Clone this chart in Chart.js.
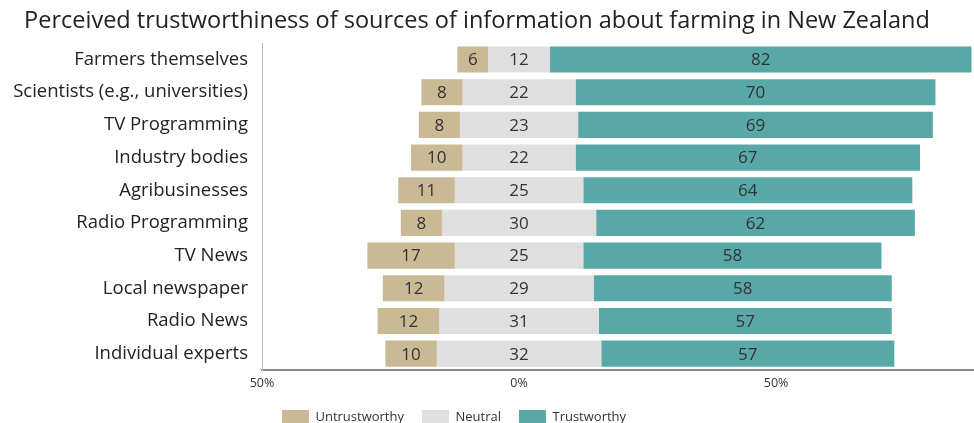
<!DOCTYPE html>
<html>
<head>
<meta charset="utf-8">
<script src="https://cdn.jsdelivr.net/npm/chart.js@4"></script>
<style>
  body { margin: 0; background: #fff; }
  #wrap { width: 974px; height: 423px; }
</style>
</head>
<body>
<div id="wrap"><canvas id="trustChart"></canvas></div>
<script>
const sources = [
  "Farmers themselves",
  "Scientists (e.g., universities)",
  "TV Programming",
  "Industry bodies",
  "Agribusinesses",
  "Radio Programming",
  "TV News",
  "Local newspaper",
  "Radio News",
  "Individual experts",
];
const untrustworthy = [6, 8, 8, 10, 11, 8, 17, 12, 12, 10];
const neutral = [12, 22, 23, 22, 25, 30, 25, 29, 31, 32];
const trustworthy = [82, 70, 69, 67, 64, 62, 58, 58, 57, 57];
const axisTicks = [-50, 0, 50];

const colors = {
  untrust: "#c9b994",
  neutral: "#dfdfdf",
  trust: "#59a8a8",
  text: "#222",
};

const fontFamily = "'Open Sans', 'Noto Sans', sans-serif";

// neutral is centred on zero, the other two hang off either side
const untrustBars = untrustworthy.map((u, i) => [-neutral[i] / 2 - u, -neutral[i] / 2]);
const neutralBars = neutral.map((n) => [-n / 2, n / 2]);
const trustBars = trustworthy.map((t, i) => [neutral[i] / 2, neutral[i] / 2 + t]);
const rawValues = [untrustworthy, neutral, trustworthy];

const barLabels = {
  id: "barLabels",
  afterDatasetsDraw(chart) {
    const ctx = chart.ctx;
    ctx.save();
    ctx.font = "17px " + fontFamily;
    ctx.fillStyle = "#333";
    ctx.textAlign = "center";
    ctx.textBaseline = "middle";
    chart.data.datasets.forEach((ds, di) => {
      chart.getDatasetMeta(di).data.forEach((bar, i) => {
        const p = bar.getCenterPoint();
        ctx.fillText(rawValues[di][i], p.x, p.y + 1);
      });
    });
    ctx.restore();
  },
};

// nudge title and legend to where the original had them
const nudge = {
  id: "nudge",
  afterLayout(chart) {
    if (chart.titleBlock) {
      chart.titleBlock.left -= 10;
      chart.titleBlock.right -= 10;
    }
    if (chart.legend) {
      chart.legend.left -= 33;
      chart.legend.right -= 33;
      chart.legend.top -= 5;
      chart.legend.bottom -= 5;
    }
  },
};

new Chart(document.getElementById("trustChart"), {
  type: "bar",
  data: {
    labels: sources,
    datasets: [
      { label: "Untrustworthy", data: untrustBars, backgroundColor: colors.untrust },
      { label: "Neutral", data: neutralBars, backgroundColor: colors.neutral },
      { label: "Trustworthy", data: trustBars, backgroundColor: colors.trust },
    ],
  },
  options: {
    indexAxis: "y",
    responsive: true,
    maintainAspectRatio: false,
    animation: false,
    grouped: false,
    barPercentage: 0.8,
    categoryPercentage: 1,
    layout: { padding: { top: 0, right: 0, bottom: -16, left: 0 } },
    plugins: {
      title: {
        display: true,
        text: "Perceived trustworthiness of sources of information about farming in New Zealand",
        color: colors.text,
        font: { family: fontFamily, size: 23.5, weight: "normal" },
        padding: { top: 7, bottom: 8 },
      },
      legend: {
        position: "bottom",
        labels: {
          color: "#333",
          boxWidth: 27,
          boxHeight: 14,
          padding: 18,
          font: { family: fontFamily, size: 13 },
        },
      },
      tooltip: { enabled: false },
    },
    scales: {
      x: {
        min: -50,
        max: 88.5,
        afterBuildTicks: (scale) => {
          scale.ticks = axisTicks.map((v) => ({ value: v }));
        },
        ticks: {
          color: "#333",
          font: { family: fontFamily, size: 12.5 },
          callback: (v) => Math.abs(v) + "%",
          padding: 6,
        },
        grid: { display: false, drawTicks: false },
        border: { display: true, color: "#888", width: 2 },
      },
      y: {
        afterFit: (scale) => {
          scale.width = 262;
        },
        ticks: {
          color: colors.text,
          font: { family: fontFamily, size: 18.5 },
          padding: 6,
        },
        grid: { display: false },
        border: { display: true, color: "#bbb", dash: [1, 2], width: 1 },
      },
    },
  },
  plugins: [barLabels, nudge],
});
</script>
</body>
</html>
